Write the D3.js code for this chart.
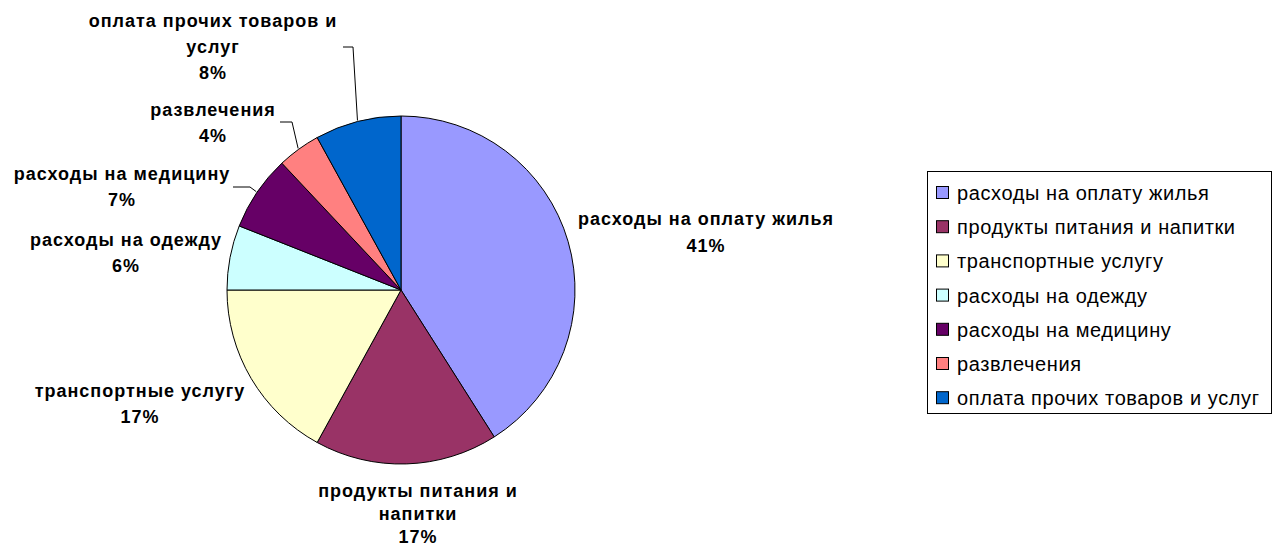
<!DOCTYPE html>
<html>
<head>
<meta charset="utf-8">
<script src="https://cdnjs.cloudflare.com/ajax/libs/d3/7.8.5/d3.min.js"></script>
<style>
  body { margin: 0; background: #fff; }
  svg { display: block; }
</style>
</head>
<body>
<svg id="chart" width="1272" height="546"></svg>
<script>
// data, in the order the slices go clockwise from 12 o'clock
const categories = [
  "расходы на оплату жилья",
  "продукты питания и напитки",
  "транспортные услугу",
  "расходы на одежду",
  "расходы на медицину",
  "развлечения",
  "оплата прочих товаров и услуг"
];
const values = [41, 17, 17, 6, 7, 4, 8];
const colors = ["#9999ff", "#993366", "#ffffcc", "#ccffff", "#660066", "#ff8080", "#0066cc"];

// label lines as they are wrapped in the picture
const labelLines = [
  ["расходы на оплату жилья"],
  ["продукты питания и", "напитки"],
  ["транспортные услугу"],
  ["расходы на одежду"],
  ["расходы на медицину"],
  ["развлечения"],
  ["оплата прочих товаров и", "услуг"]
];

let svg = d3.select("#chart");

let cx = 401, cy = 290, radius = 174;
let g = svg.append("g").attr("transform", "translate(" + cx + "," + cy + ")");

let pie = d3.pie().sort(null).value(function (d) { return d; });
let arcs = pie(values);
let arc = d3.arc().innerRadius(0).outerRadius(radius);

g.selectAll(".slice")
  .data(arcs)
  .enter().append("path")
  .attr("class", "slice")
  .attr("d", arc)
  .style("fill", function (d, i) { return colors[i]; })
  .style("stroke", "#000")
  .style("stroke-width", 1);

// where each label block sits (centre x, first line baseline y, line step), page coords
const labelPos = [
  [706, 225, 27],
  [418, 497, 23],
  [140, 397, 26],
  [126, 246, 26],
  [122, 180, 26],
  [213, 116, 26],
  [213, 27, 26]
];

// leader lines: label end -> slice edge (only for the small top-left slices)
const leaders = {
  4: [[233, 187], [250, 187]],
  5: [[280, 122], [292, 122]],
  6: [[343, 47], [353, 47]]
};

let labels = svg.append("g")
  .style("font-family", "'Liberation Sans', Arial, sans-serif")
  .style("font-size", "18px")
  .style("font-weight", "bold")
  .style("letter-spacing", "1px")
  .attr("text-anchor", "middle")
  .style("fill", "#000");

arcs.forEach(function (d, i) {
  let p = labelPos[i];
  let lines = labelLines[i].concat([values[i] + "%"]);
  lines.forEach(function (t, k) {
    labels.append("text")
      .attr("x", p[0])
      .attr("y", p[1] + k * p[2])
      .text(t);
  });
  if (leaders[i]) {
    let mid = (d.startAngle + d.endAngle) / 2;
    let edge = [cx + Math.sin(mid) * (radius + 1), cy - Math.cos(mid) * (radius + 1)];
    svg.append("polyline")
      .attr("points", leaders[i].concat([edge]).map(function (q) { return q.join(","); }).join(" "))
      .style("fill", "none")
      .style("stroke", "#000")
      .style("stroke-width", 1);
  }
});

// legend
let lg = svg.append("g").attr("transform", "translate(927,171)");
lg.append("rect")
  .attr("x", 0.5).attr("y", 0.5)
  .attr("width", 344).attr("height", 242)
  .style("fill", "#fff")
  .style("stroke", "#000")
  .style("stroke-width", 1);

let item = lg.selectAll(".item")
  .data(categories)
  .enter().append("g")
  .attr("class", "item")
  .attr("transform", function (d, i) { return "translate(0," + (22 + i * 34.2) + ")"; });

item.append("rect")
  .attr("x", 9.5).attr("y", -6.5)
  .attr("width", 12).attr("height", 12)
  .style("fill", function (d, i) { return colors[i]; })
  .style("stroke", "#000")
  .style("stroke-width", 1);

item.append("text")
  .attr("x", 30)
  .attr("y", 7)
  .style("font-family", "'Liberation Sans', Arial, sans-serif")
  .style("font-size", "20px")
  .style("letter-spacing", "0.6px")
  .style("fill", "#000")
  .text(function (d) { return d; });
</script>
</body>
</html>
